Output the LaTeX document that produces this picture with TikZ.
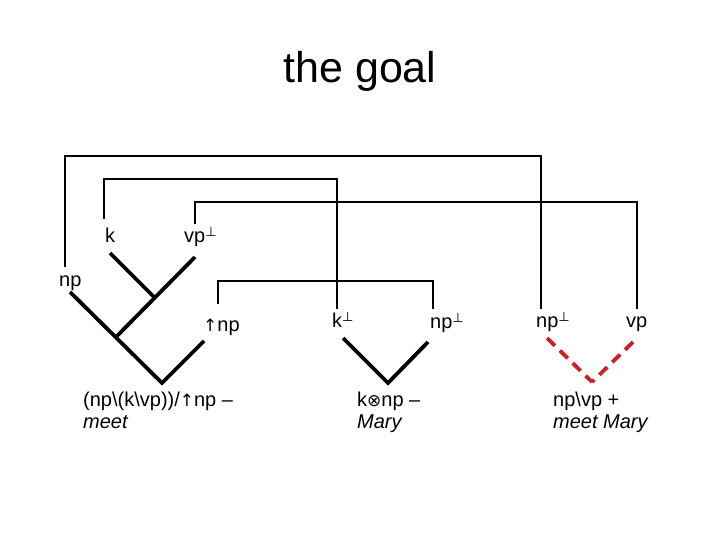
\documentclass[tikz,border=0pt]{standalone}
\usepackage{fontspec}
\setmainfont{Liberation Sans}
\newfontfamily\symf{DejaVu Sans}
\newcommand{\bperp}{\raisebox{0.3em}{\fontsize{13}{13}\symf ⊥}}
\newcommand{\uarr}{{\fontsize{17}{17}\symf ↑}}
\newcommand{\otim}{{\fontsize{17}{17}\symf ⊗}}
\definecolor{dred}{RGB}{205,32,38}
\begin{document}
\begin{tikzpicture}[x=1pt,y=-1pt,
  lbl/.style={anchor=base west,inner sep=0pt,font=\fontsize{20}{24}\selectfont},
  link/.style={line width=1.4pt},
  branch/.style={line width=3.8pt},
  dbranch/.style={line width=3.8pt,dred,dash pattern=on 11pt off 7pt}]
\useasboundingbox (0,0) rectangle (720,540);
\node[anchor=base,inner sep=0pt,font=\fontsize{43}{48}\selectfont] (title) at (360,83) {the goal};
% labels
\node[lbl] (k) at (105,242) {k};
\node[lbl] (vpp) at (184,243) {vp\bperp};
\node[lbl] (np) at (59,286) {np};
\node[lbl] (unp) at (203,331) {\uarr np};
\node[lbl] (kp) at (332,327) {k\bperp};
\node[lbl] (npp) at (430,328) {np\bperp};
\node[lbl] (npp2) at (536,327) {np\bperp};
\node[lbl] (vp) at (626,327) {vp};
\node[lbl,align=left,anchor=north west] (l1) at (83,392) {(np\textbackslash(k\textbackslash vp))/\uarr np --\\[-2pt]\textit{meet}};
\node[lbl,align=left,anchor=north west] (l2) at (357,392) {k\otim np --\\[-2pt]\textit{Mary}};
\node[lbl,align=left,anchor=north west] (l3) at (553,392) {np\textbackslash vp +\\[-2pt]\textit{meet Mary}};
% link end points
\coordinate (e1a) at (65,267); \coordinate (e1b) at (541,309);
\coordinate (e2a) at (104,219); \coordinate (e2b) at (337,309);
\coordinate (e3a) at (195,224); \coordinate (e3b) at (637,309);
\coordinate (e4a) at (218,304); \coordinate (e4b) at (433,309);
\draw[link] (e1a) -- (65,156) -| (e1b);
\draw[link] (e2a) -- (104,179) -| (e2b);
\draw[link] (e3a) -- (195,202) -| (e3b);
\draw[link] (e4a) -- (218,281) -| (e4b);
% tree 1
\coordinate (t1k) at (110,253); \coordinate (t1j) at (155,298);
\coordinate (t1v) at (195,257); \coordinate (t1m) at (117,336);
\coordinate (t1n) at (70,292); \coordinate (t1b) at (162,383);
\coordinate (t1u) at (204,341);
\draw[branch] (t1k) -- (t1j);
\draw[branch] (t1v) -- (t1m);
\draw[branch] (t1n) -- (t1b) -- (t1u);
% tree 2
\coordinate (t2a) at (343,338); \coordinate (t2b) at (388,383); \coordinate (t2c) at (428,342);
\draw[branch] (t2a) -- (t2b) -- (t2c);
% tree 3
\coordinate (t3a) at (547,338); \coordinate (t3b) at (592,382); \coordinate (t3c) at (633,342);
\draw[dbranch] (t3a) -- (t3b);
\draw[dbranch] (t3c) -- (t3b);
\end{tikzpicture}
\end{document}
